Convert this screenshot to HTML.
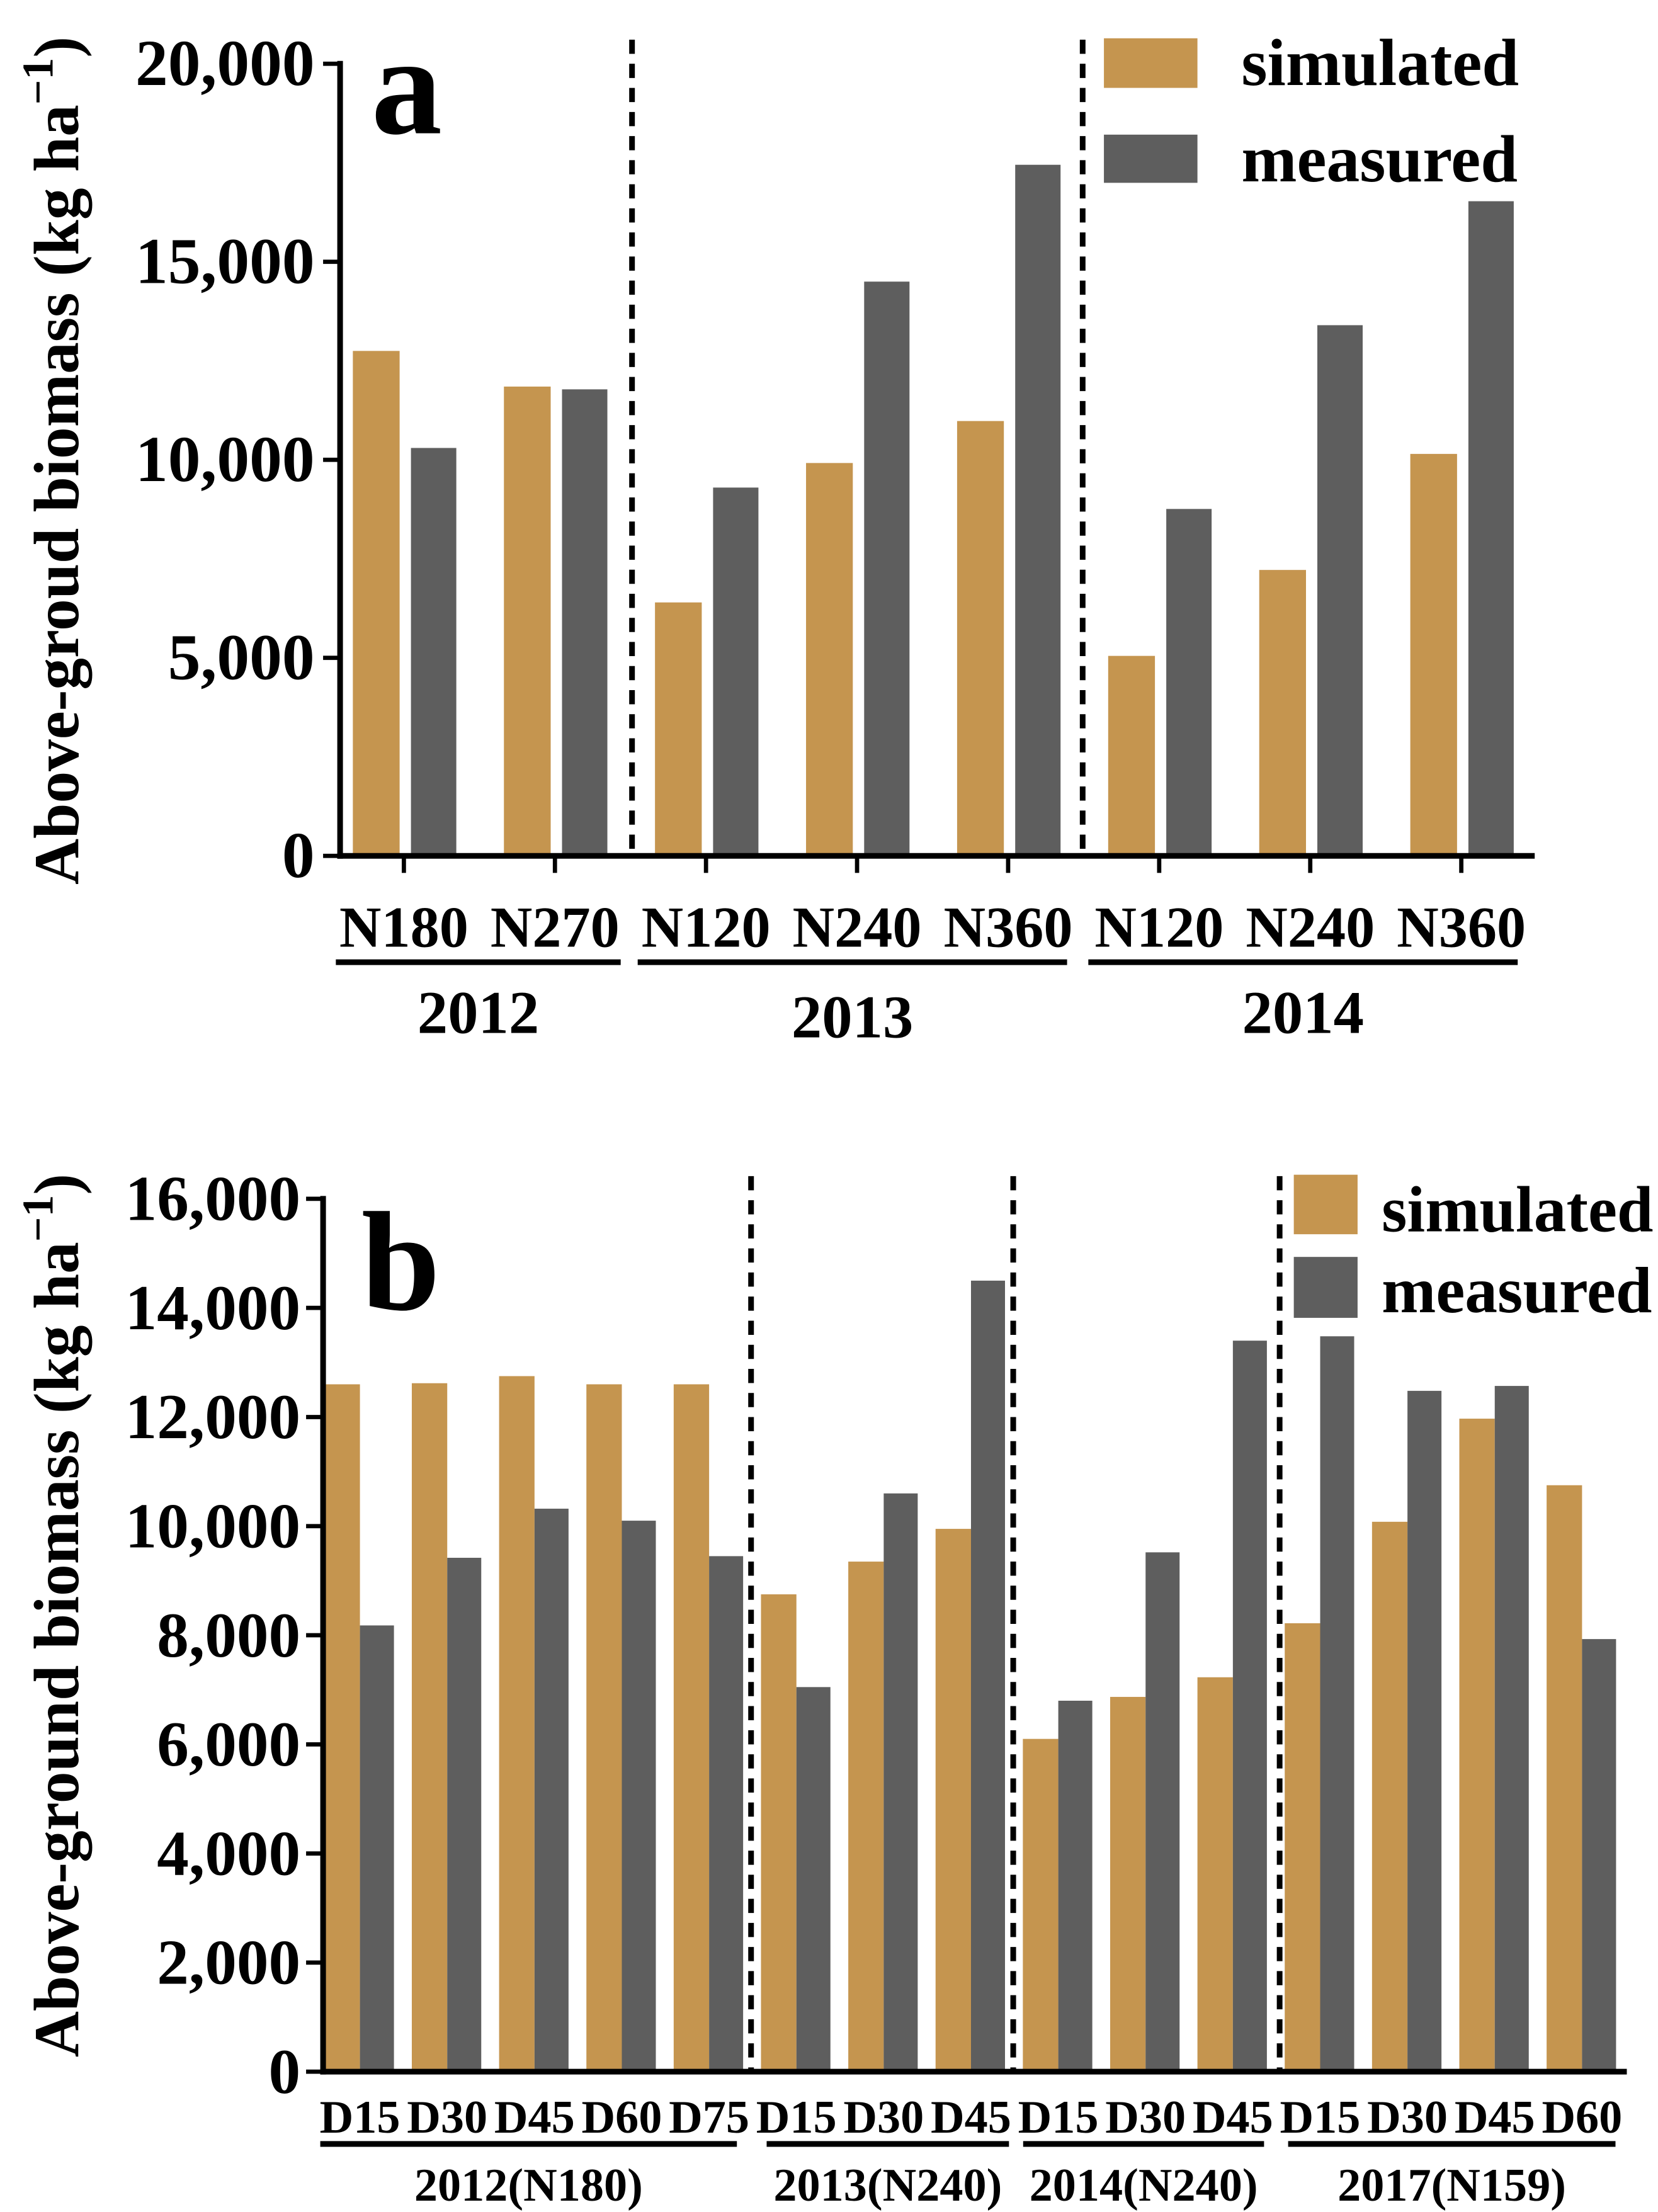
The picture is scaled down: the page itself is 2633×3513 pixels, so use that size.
<!DOCTYPE html>
<html><head><meta charset="utf-8"><style>html,body{margin:0;padding:0;background:#fff}svg{display:block}text{font-family:"Liberation Serif",serif;font-weight:bold;fill:#000}</style></head>
<body>
<svg id="chart" width="2633" height="3513" viewBox="0 0 1170 1561" xmlns="http://www.w3.org/2000/svg">
<g id="pa"></g>
<g id="pb"></g>
</svg>
<script>
const aCats = ["N180","N270","N120","N240","N360","N120","N240","N360"];
const aSim = [12750,11850,6400,9920,10980,5050,7220,10150];
const aMeas = [10300,11780,9300,14500,17450,8760,13400,16530];
const aTicks = [0,5000,10000,15000,20000];
const aYears = ["2012","2013","2014"];
const bCats = ["D15","D30","D45","D60","D75","D15","D30","D45","D15","D30","D45","D15","D30","D45","D60"];
const bSim = [12600,12620,12750,12600,12600,8750,9350,9950,6100,6870,7230,8220,10080,11970,10750];
const bMeas = [8180,9420,10320,10100,9450,7050,10600,14500,6800,9520,13400,13480,12480,12570,7930];
const bTicks = [0,2000,4000,6000,8000,10000,12000,14000,16000];
const bYears = ["2012(N180)","2013(N240)","2014(N240)","2017(N159)"];
const NS="http://www.w3.org/2000/svg";
function mk(p,t,a,txt){const e=document.createElementNS(NS,t);for(const k in a)e.setAttribute(k,a[k]);if(txt!==undefined)e.textContent=txt;p.appendChild(e);return e;}
const fmt=v=>v.toLocaleString("en-US");
const SIM="#c5954f", MEAS="#5e5e5e";

// Panel A
(function(){
const g=document.getElementById("pa");
const y=v=>604-v/20000*559;
const xc=i=>285+i*106.6;
aCats.forEach((c,i)=>{
 let r=mk(g,"rect",{x:xc(i)-36,y:y(aSim[i]),width:33,height:604-y(aSim[i]),fill:SIM});
 
 
 r=mk(g,"rect",{x:xc(i)+5,y:y(aMeas[i]),width:32,height:604-y(aMeas[i]),fill:MEAS});
 
 
 let t=mk(g,"line",{x1:xc(i),x2:xc(i),y1:604,y2:616,stroke:"#000","stroke-width":3});
 
 
 let l=mk(g,"text",{x:xc(i),y:668,"font-size":41,"text-anchor":"middle"},c);
 
 
});
aTicks.forEach(v=>{
 let t=mk(g,"line",{x1:228,x2:240,y1:y(v),y2:y(v),stroke:"#000","stroke-width":3});
 
 
 let l=mk(g,"text",{x:222,y:y(v)+15,"font-size":46,"text-anchor":"end"},fmt(v));
 
 
});
mk(g,"line",{x1:240,x2:240,y1:43,y2:606,stroke:"#000","stroke-width":4});
mk(g,"line",{x1:238,x2:1083,y1:604,y2:604,stroke:"#000","stroke-width":4});
[446,764].forEach(x=>mk(g,"line",{x1:x,x2:x,y1:28,y2:604,stroke:"#000","stroke-width":4,"stroke-dasharray":"10,7"}));
[[237,438],[450,753],[768,1071]].forEach((s,i)=>{
 mk(g,"line",{x1:s[0],x2:s[1],y1:679,y2:679,stroke:"#000","stroke-width":4});
 let l=mk(g,"text",{x:(s[0]+s[1])/2,y:i==1?732:729,"font-size":43,"text-anchor":"middle"},aYears[i]);
 
 
});
mk(g,"text",{x:262,y:94,"font-size":100},"a");
mk(g,"rect",{x:779,y:27,width:66,height:35,fill:SIM});
mk(g,"rect",{x:779,y:95,width:66,height:34,fill:MEAS});
mk(g,"text",{x:876,y:60,"font-size":47},"simulated");
mk(g,"text",{x:876,y:128,"font-size":47},"measured");
const yl=mk(g,"text",{transform:"translate(55,325) rotate(-90)","font-size":45,"text-anchor":"middle"});
yl.innerHTML='Above-groud biomass (kg ha<tspan dy="-18" font-size="31">−1</tspan><tspan dy="18">)</tspan>';
})();

// Panel B
(function(){
const g=document.getElementById("pb");
const y=v=>1462-v/16000*616;
const xl=i=>229+i*61.6;
bCats.forEach((c,i)=>{
 let r=mk(g,"rect",{x:xl(i),y:y(bSim[i]),width:25,height:1462-y(bSim[i]),fill:SIM});
 
 
 r=mk(g,"rect",{x:xl(i)+25,y:y(bMeas[i]),width:24,height:1462-y(bMeas[i]),fill:MEAS});
 
 
 let l=mk(g,"text",{x:xl(i)+25,y:1505,"font-size":33,"text-anchor":"middle"},c);
 
 
});
bTicks.forEach(v=>{
 let t=mk(g,"line",{x1:216,x2:228,y1:y(v),y2:y(v),stroke:"#000","stroke-width":3});
 
 
 let l=mk(g,"text",{x:212,y:y(v)+15,"font-size":45,"text-anchor":"end"},fmt(v));
 
 
});
mk(g,"line",{x1:228,x2:228,y1:844,y2:1464,stroke:"#000","stroke-width":4});
mk(g,"line",{x1:226,x2:1148,y1:1462,y2:1462,stroke:"#000","stroke-width":4});
[530,715,903].forEach(x=>mk(g,"line",{x1:x,x2:x,y1:830,y2:1462,stroke:"#000","stroke-width":4,"stroke-dasharray":"10,7"}));
[[226,520],[541,712],[722,892],[909,1140]].forEach((s,i)=>{
 mk(g,"line",{x1:s[0],x2:s[1],y1:1513,y2:1513,stroke:"#000","stroke-width":4});
 let l=mk(g,"text",{x:(s[0]+s[1])/2,y:1553,"font-size":33,"text-anchor":"middle"},bYears[i]);
 
 
});
mk(g,"text",{x:255,y:924,"font-size":100},"b");
mk(g,"rect",{x:913,y:829,width:45,height:42,fill:SIM});
mk(g,"rect",{x:913,y:887,width:45,height:43,fill:MEAS});
mk(g,"text",{x:975,y:869,"font-size":46},"simulated");
mk(g,"text",{x:975,y:926,"font-size":46},"measured");
const yl=mk(g,"text",{transform:"translate(55,1140) rotate(-90)","font-size":45,"text-anchor":"middle"});
yl.innerHTML='Above-ground biomass (kg ha<tspan dy="-18" font-size="31">−1</tspan><tspan dy="18">)</tspan>';
})();
</script>
</body></html>
